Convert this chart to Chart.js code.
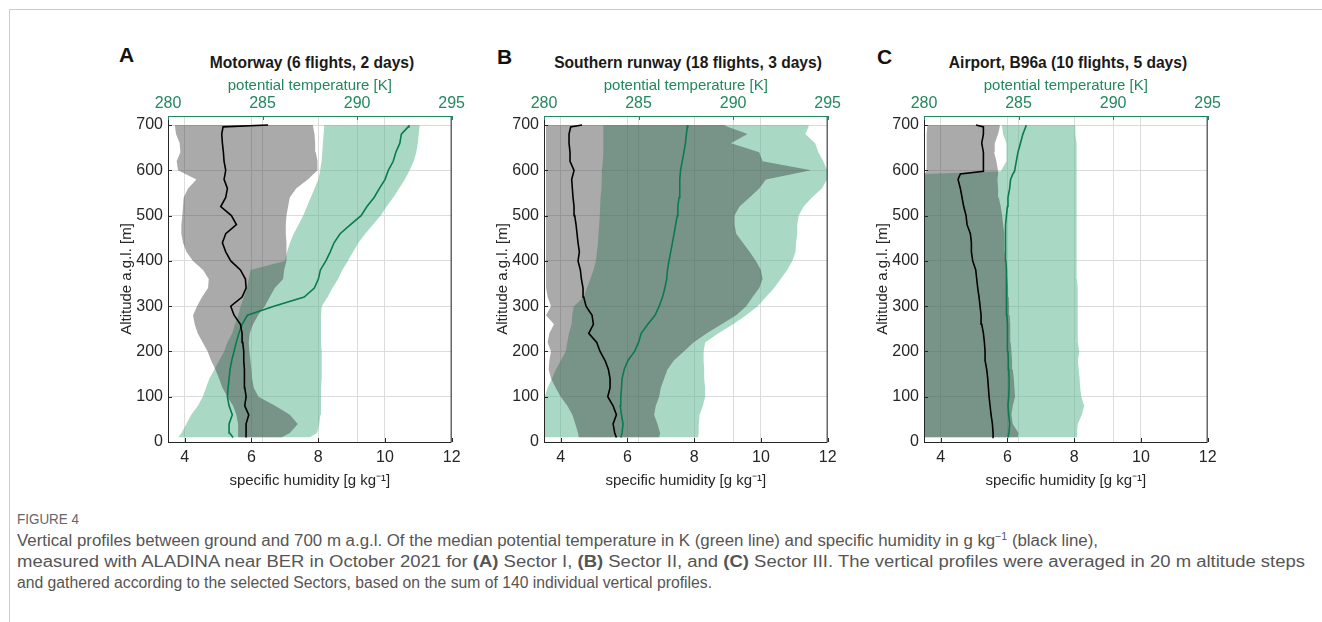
<!DOCTYPE html>
<html>
<head>
<meta charset="utf-8">
<script src="https://cdn.jsdelivr.net/npm/chart.js@4.4.0/dist/chart.umd.min.js"></script>
<style>
  body { margin: 0; width: 1322px; height: 622px; background: #fff; position: relative; overflow: hidden;
         font-family: 'Liberation Sans', Arial, sans-serif; }
  .frame { position: absolute; left: 9px; top: 9px; width: 1320px; height: 620px;
           border-top: 1px solid #cccccc; border-left: 1px solid #cccccc; }
  canvas { position: absolute; }
  .letter { position: absolute; font-weight: bold; font-size: 21px; line-height: 24px; color: #111; }
  .ptitle { position: absolute; width: 288px; text-align: center; font-weight: bold; font-size: 15.6px;
            line-height: 18px; color: #1a1a1a; white-space: nowrap; }
  .cap { position: absolute; left: 17px; white-space: nowrap; transform-origin: 0 50%;
         font-family: 'Liberation Sans', Arial, sans-serif;
         color: #555; font-size: 16px; line-height: 18px; }
  .cap sup { font-size: 10px; line-height: 0; }
  .capHead { color: #666; font-size: 14px; }
</style>
</head>
<body>
<div class="frame"></div>

<div class="letter" style="left:119px;top:43px">A</div>
<div class="letter" style="left:497px;top:45px">B</div>
<div class="letter" style="left:877px;top:45px">C</div>

<div class="ptitle" style="left:168px;top:54px">Motorway (6 flights, 2 days)</div>
<div class="ptitle" style="left:544px;top:54px">Southern runway (18 flights, 3 days)</div>
<div class="ptitle" style="left:924px;top:54px">Airport, B96a (10 flights, 5 days)</div>

<canvas id="panelA" width="370" height="430" style="left:98px;top:70px"></canvas>
<canvas id="panelB" width="370" height="430" style="left:474px;top:70px"></canvas>
<canvas id="panelC" width="370" height="430" style="left:854px;top:70px"></canvas>

<div class="cap capHead" data-w="62" style="top:510px">FIGURE 4</div>
<div class="cap" data-w="1081" style="top:532px">Vertical profiles between ground and 700 m a.g.l. Of the median potential temperature in K (green line) and specific humidity in g kg<sup>−1</sup> (black line),</div>
<div class="cap" data-w="1288" style="top:553px">measured with ALADINA near BER in October 2021 for <b>(A)</b> Sector I, <b>(B)</b> Sector II, and <b>(C)</b> Sector III. The vertical profiles were averaged in 20 m altitude steps</div>
<div class="cap" data-w="695" style="top:574px">and gathered according to the selected Sectors, based on the sum of 140 individual vertical profiles.</div>

<script>
// altitudes [m]
const altAB = [10, 20, 40, 60, 80, 100, 120, 140, 160, 180, 200, 220, 240, 260, 280, 300, 320, 340, 360, 380,
               400, 420, 440, 460, 480, 500, 520, 540, 560, 580, 600, 620, 640, 660, 680, 696, 700];
const altC = [10, 20, 40, 60, 80, 100, 120, 140, 160, 180, 200, 220, 240, 260, 280, 300, 320, 340, 360, 380,
              400, 420, 440, 460, 480, 500, 520, 540, 560, 580, 592, 598, 620, 640, 660, 680, 696, 700];

// tick labels
const altTicks = [0, 100, 200, 300, 400, 500, 600, 700];
const humTicks = [4, 6, 8, 10, 12];
const thetaTicks = [280, 285, 290, 295];

// A - Motorway
const motorwayHumMin = [5.60, 5.60, 5.60, 5.55, 5.45, 5.28, 5.13, 5.03, 4.92, 4.79, 4.69, 4.54, 4.39, 4.30, 4.25, 4.37, 4.52, 4.70, 4.72, 4.55,
                        4.25, 4.05, 3.95, 3.90, 3.90, 3.93, 3.95, 3.97, 4.10, 4.35, 3.80, 3.76, 3.87, 3.85, 3.74, 3.71, 3.71];
const motorwayHumMax = [6.90, 7.15, 7.39, 7.15, 6.71, 6.21, 6.07, 6.02, 6.00, 5.97, 5.94, 5.92, 5.95, 6.05, 6.20, 6.40, 6.55, 6.70, 6.95, 6.98,
                        7.05, 7.05, 7.05, 7.03, 7.03, 7.05, 7.10, 7.15, 7.34, 7.69, 7.98, 7.98, 7.93, 7.91, 7.89, 7.85, 7.84];
const motorwayHumMed = [5.84, 5.84, 5.84, 5.92, 5.80, 5.84, 5.80, 5.80, 5.78, 5.77, 5.77, 5.74, 5.72, 5.67, 5.48, 5.38, 5.72, 5.84, 5.82, 5.67,
                        5.38, 5.23, 5.13, 5.23, 5.55, 5.40, 5.08, 5.23, 5.28, 5.18, 5.23, 5.18, 5.16, 5.13, 5.11, 5.15, 6.50];
const motorwayThetaMin = [280.54, 280.71, 280.97, 281.23, 281.58, 281.84, 282.01, 282.19, 282.45, 282.71, 282.97, 283.14, 283.40, 283.54, 283.72, 283.84, 284.01, 284.18, 284.27, 284.36,
                          286.18, 286.30, 286.45, 286.65, 286.90, 287.15, 287.35, 287.55, 287.75, 287.95, 288.05, 288.12, 288.16, 288.19, 288.23, 288.26, 288.26];
const motorwayThetaMax = [287.48, 287.88, 288.00, 288.06, 288.09, 288.09, 288.09, 288.13, 288.13, 288.13, 288.13, 288.09, 288.09, 288.09, 288.09, 288.13, 288.44, 288.70, 288.99, 289.22,
                          289.51, 289.79, 290.07, 290.43, 290.83, 291.25, 291.56, 291.91, 292.22, 292.52, 292.78, 292.99, 293.13, 293.21, 293.26, 293.30, 293.30];
const motorwayThetaMed = [283.44, 283.26, 283.23, 283.40, 283.23, 283.14, 283.18, 283.23, 283.28, 283.37, 283.49, 283.61, 283.75, 283.92, 284.20, 285.60, 287.20, 287.74, 287.95, 288.06,
                          288.35, 288.58, 288.78, 289.10, 289.65, 290.21, 290.52, 290.90, 291.18, 291.48, 291.65, 291.91, 292.05, 292.26, 292.34, 292.70, 292.74];

// B - Southern runway
const runwayHumMin = [4.54, 4.52, 4.44, 4.35, 4.20, 4.00, 3.85, 3.71, 3.64, 3.66, 3.71, 3.61, 3.66, 3.80, 3.56, 3.71, 3.61, 3.56, 3.56, 3.56,
                      3.56, 3.56, 3.56, 3.56, 3.56, 3.56, 3.56, 3.56, 3.56, 3.56, 3.58, 3.56, 3.56, 3.56, 3.56, 3.56, 3.56];
const runwayHumMax = [6.95, 6.98, 6.90, 6.80, 6.85, 6.95, 7.00, 7.10, 7.20, 7.39, 7.69, 7.98, 8.38, 8.82, 9.26, 9.56, 9.75, 9.95, 10.05, 10.00,
                      9.85, 9.66, 9.46, 9.26, 9.21, 9.21, 9.36, 9.66, 9.95, 10.15, 11.50, 10.05, 9.95, 9.10, 9.60, 9.00, 8.90];
const runwayHumMed = [5.67, 5.62, 5.57, 5.67, 5.57, 5.41, 5.48, 5.48, 5.43, 5.33, 5.18, 5.08, 4.84, 4.98, 4.94, 4.76, 4.69, 4.67, 4.62, 4.59,
                      4.52, 4.56, 4.52, 4.49, 4.46, 4.42, 4.40, 4.37, 4.35, 4.33, 4.40, 4.28, 4.28, 4.25, 4.25, 4.30, 4.64];
const runwayThetaMin = [280.00, 280.00, 280.00, 280.00, 280.00, 280.05, 280.19, 280.42, 280.63, 280.89, 281.15, 281.23, 281.32, 281.46, 281.49, 281.58, 282.10, 282.27, 282.45, 282.62,
                        282.74, 282.80, 282.85, 282.88, 282.92, 282.95, 282.97, 282.99, 283.02, 283.06, 283.06, 283.11, 283.14, 283.14, 283.14, 283.14, 283.14];
const runwayThetaMax = [288.14, 288.18, 288.18, 288.23, 288.40, 288.52, 288.52, 288.47, 288.47, 288.44, 288.44, 288.52, 289.22, 290.00, 290.69, 291.30, 291.74, 292.17, 292.52, 292.86,
                        293.13, 293.30, 293.33, 293.39, 293.39, 293.47, 293.73, 294.17, 294.69, 294.97, 294.97, 294.77, 294.51, 294.34, 293.82, 293.99, 293.99];
const runwayThetaMed = [284.06, 284.13, 284.18, 284.10, 284.03, 284.06, 284.10, 284.13, 284.24, 284.44, 284.79, 285.00, 285.14, 285.49, 285.87, 286.09, 286.27, 286.39, 286.49, 286.53,
                        286.61, 286.70, 286.79, 286.88, 286.96, 287.05, 287.08, 287.14, 287.17, 287.19, 287.22, 287.31, 287.40, 287.48, 287.53, 287.58, 287.60];

// C - Airport, B96a
const airportHumMin = [3.50, 3.50, 3.50, 3.50, 3.50, 3.50, 3.50, 3.50, 3.50, 3.50, 3.50, 3.50, 3.50, 3.50, 3.50, 3.50, 3.50, 3.50, 3.50, 3.50,
                       3.50, 3.50, 3.50, 3.50, 3.50, 3.50, 3.50, 3.50, 3.50, 3.50, 3.50, 3.58, 3.58, 3.58, 3.58, 3.58, 3.60, 3.62];
const airportHumMax = [6.31, 6.33, 6.16, 6.12, 6.16, 6.23, 6.21, 6.19, 6.16, 6.14, 6.12, 6.10, 6.09, 6.08, 6.07, 6.05, 6.04, 6.02, 6.00, 5.97,
                       5.94, 5.92, 5.92, 5.90, 5.87, 5.84, 5.80, 5.74, 5.72, 5.70, 5.72, 5.72, 5.67, 5.60, 5.62, 5.72, 5.77, 5.77];
const airportHumMed = [5.59, 5.57, 5.55, 5.51, 5.48, 5.45, 5.43, 5.41, 5.38, 5.33, 5.33, 5.31, 5.28, 5.23, 5.21, 5.18, 5.15, 5.11, 5.08, 5.05,
                       4.96, 4.92, 4.92, 4.89, 4.79, 4.76, 4.69, 4.64, 4.59, 4.52, 4.59, 5.28, 5.28, 5.28, 5.23, 5.28, 5.28, 5.06];
const airportThetaMin = [280.00, 280.00, 280.00, 280.00, 280.00, 280.00, 280.00, 280.00, 280.00, 280.00, 280.00, 280.00, 280.00, 280.00, 280.00, 280.00, 280.00, 280.00, 280.00, 280.00,
                         280.00, 280.00, 280.00, 280.00, 280.00, 280.00, 280.00, 280.00, 280.00, 280.00, 280.00, 284.06, 284.36, 284.36, 284.36, 284.18, 284.13, 284.13];
const airportThetaMax = [288.09, 288.09, 288.13, 288.35, 288.47, 288.32, 288.26, 288.23, 288.18, 288.14, 288.21, 288.14, 288.13, 288.13, 288.13, 288.13, 288.13, 288.13, 288.09, 288.09,
                         288.09, 288.09, 288.09, 288.09, 288.09, 288.09, 288.09, 288.06, 288.06, 288.06, 288.06, 288.06, 288.04, 288.04, 288.04, 288.00, 288.00, 288.00];
const airportThetaMed = [284.44, 284.49, 284.53, 284.48, 284.44, 284.48, 284.50, 284.50, 284.48, 284.46, 284.44, 284.44, 284.41, 284.39, 284.38, 284.36, 284.36, 284.36, 284.36, 284.36,
                         284.33, 284.32, 284.31, 284.31, 284.31, 284.36, 284.41, 284.44, 284.53, 284.58, 284.70, 284.79, 284.88, 284.97, 285.10, 285.23, 285.38, 285.40];

// colours
const greenText = '#23875f';
const greenLine = '#0b7a4f';
const greenFill = 'rgba(83, 179, 137, 0.5)';
const greyFill = 'rgba(52, 52, 52, 0.42)';
const gridColor = '#dcdcdc';
const axisColor = '#262626';

Chart.defaults.font.family = "'Liberation Sans', Arial, sans-serif";
Chart.defaults.animation = false;

function pts(alt, vals) {
    return alt.map((a, i) => ({ x: vals[i], y: a }));
}

// box and small inward ticks like the matlab axes
const boxPlugin = {
    id: 'box',
    afterDraw(chart) {
        const { ctx, chartArea: a, scales } = chart;
        ctx.save();
        ctx.lineWidth = 1;
        ctx.strokeStyle = axisColor;
        ctx.beginPath();
        ctx.moveTo(a.left + 0.5, a.top);
        ctx.lineTo(a.left + 0.5, a.bottom + 0.5);
        ctx.lineTo(a.right - 0.5, a.bottom + 0.5);
        ctx.lineTo(a.right - 0.5, a.top);
        ctx.stroke();
        altTicks.forEach(v => {
            const y = Math.round(scales.y.getPixelForValue(v)) + 0.5;
            ctx.beginPath(); ctx.moveTo(a.left, y); ctx.lineTo(a.left + 4, y); ctx.stroke();
        });
        humTicks.forEach(v => {
            const x = Math.round(scales.x.getPixelForValue(v)) + 0.5;
            ctx.beginPath(); ctx.moveTo(x, a.bottom); ctx.lineTo(x, a.bottom - 4); ctx.stroke();
        });
        ctx.strokeStyle = greenText;
        ctx.beginPath();
        ctx.moveTo(a.left, a.top + 0.5);
        ctx.lineTo(a.right, a.top + 0.5);
        ctx.stroke();
        thetaTicks.forEach(v => {
            const x = Math.round(scales.xT.getPixelForValue(v)) + 0.5;
            ctx.beginPath(); ctx.moveTo(x, a.top); ctx.lineTo(x, a.top + 4); ctx.stroke();
        });
        ctx.restore();
    }
};

function makePanel(id, alt, humMin, humMax, humMed, thMin, thMax, thMed) {
    const band = { borderColor: 'rgba(0,0,0,0)', borderWidth: 1, pointRadius: 0 };
    new Chart(document.getElementById(id), {
        type: 'line',
        data: {
            datasets: [
                { ...band, data: pts(alt, thMin), xAxisID: 'xT', fill: false, order: 4 },
                { ...band, data: pts(alt, thMax), xAxisID: 'xT', fill: '-1', backgroundColor: greenFill, order: 4 },
                { ...band, data: pts(alt, humMin), xAxisID: 'x', fill: false, order: 3 },
                { ...band, data: pts(alt, humMax), xAxisID: 'x', fill: '-1', backgroundColor: greyFill, order: 3 },
                { data: pts(alt, thMed), xAxisID: 'xT', borderColor: greenLine, borderWidth: 1.6, pointRadius: 0, fill: false, order: 2 },
                { data: pts(alt, humMed), xAxisID: 'x', borderColor: '#000', borderWidth: 1.6, pointRadius: 0, fill: false, order: 1 }
            ]
        },
        options: {
            responsive: false,
            indexAxis: 'y',
            layout: { padding: { left: 0, right: 12, top: 0, bottom: 0 } },
            plugins: { legend: { display: false }, tooltip: { enabled: false } },
            scales: {
                y: {
                    type: 'linear', position: 'left', min: 0, max: 720,
                    afterBuildTicks: s => { s.ticks = altTicks.map(v => ({ value: v })); },
                    afterFit: s => { s.width = 70; },
                    grid: { color: gridColor, drawTicks: false },
                    border: { display: false },
                    ticks: { color: axisColor, font: { size: 16 }, padding: 5 },
                    title: { display: true, text: 'Altitude a.g.l. [m]', color: axisColor,
                             font: { size: 15 }, padding: { top: 20, bottom: 0 } }
                },
                x: {
                    type: 'linear', position: 'bottom', min: 3.5, max: 12,
                    afterBuildTicks: s => { s.ticks = humTicks.map(v => ({ value: v })); },
                    afterFit: s => { s.height = 58; },
                    grid: { color: gridColor, drawTicks: false },
                    border: { display: false },
                    ticks: { color: axisColor, font: { size: 16 }, padding: 6, maxRotation: 0 },
                    title: { display: true, text: 'specific humidity [g kg⁻¹]', color: axisColor,
                             font: { size: 15 }, padding: { top: 0, bottom: 10 } }
                },
                xT: {
                    type: 'linear', position: 'top', min: 280, max: 295,
                    afterBuildTicks: s => { s.ticks = thetaTicks.map(v => ({ value: v })); },
                    afterFit: s => { s.height = 46; },
                    grid: { color: gridColor, drawTicks: false },
                    border: { display: false },
                    ticks: { color: greenText, font: { size: 16 }, padding: 3, maxRotation: 0 },
                    title: { display: true, text: 'potential temperature [K]', color: greenText,
                             font: { size: 15 }, padding: { top: 7, bottom: 0 } }
                }
            }
        },
        plugins: [boxPlugin]
    });
}

makePanel('panelA', altAB, motorwayHumMin, motorwayHumMax, motorwayHumMed, motorwayThetaMin, motorwayThetaMax, motorwayThetaMed);
makePanel('panelB', altAB, runwayHumMin, runwayHumMax, runwayHumMed, runwayThetaMin, runwayThetaMax, runwayThetaMed);
makePanel('panelC', altC, airportHumMin, airportHumMax, airportHumMed, airportThetaMin, airportThetaMax, airportThetaMed);

// the caption font is condensed: squeeze each line to the width it has in the figure
document.querySelectorAll('.cap').forEach(el => {
    const w = el.getBoundingClientRect().width;
    if (w > 0) el.style.transform = 'scaleX(' + (+el.dataset.w / w) + ')';
});
</script>
</body>
</html>
